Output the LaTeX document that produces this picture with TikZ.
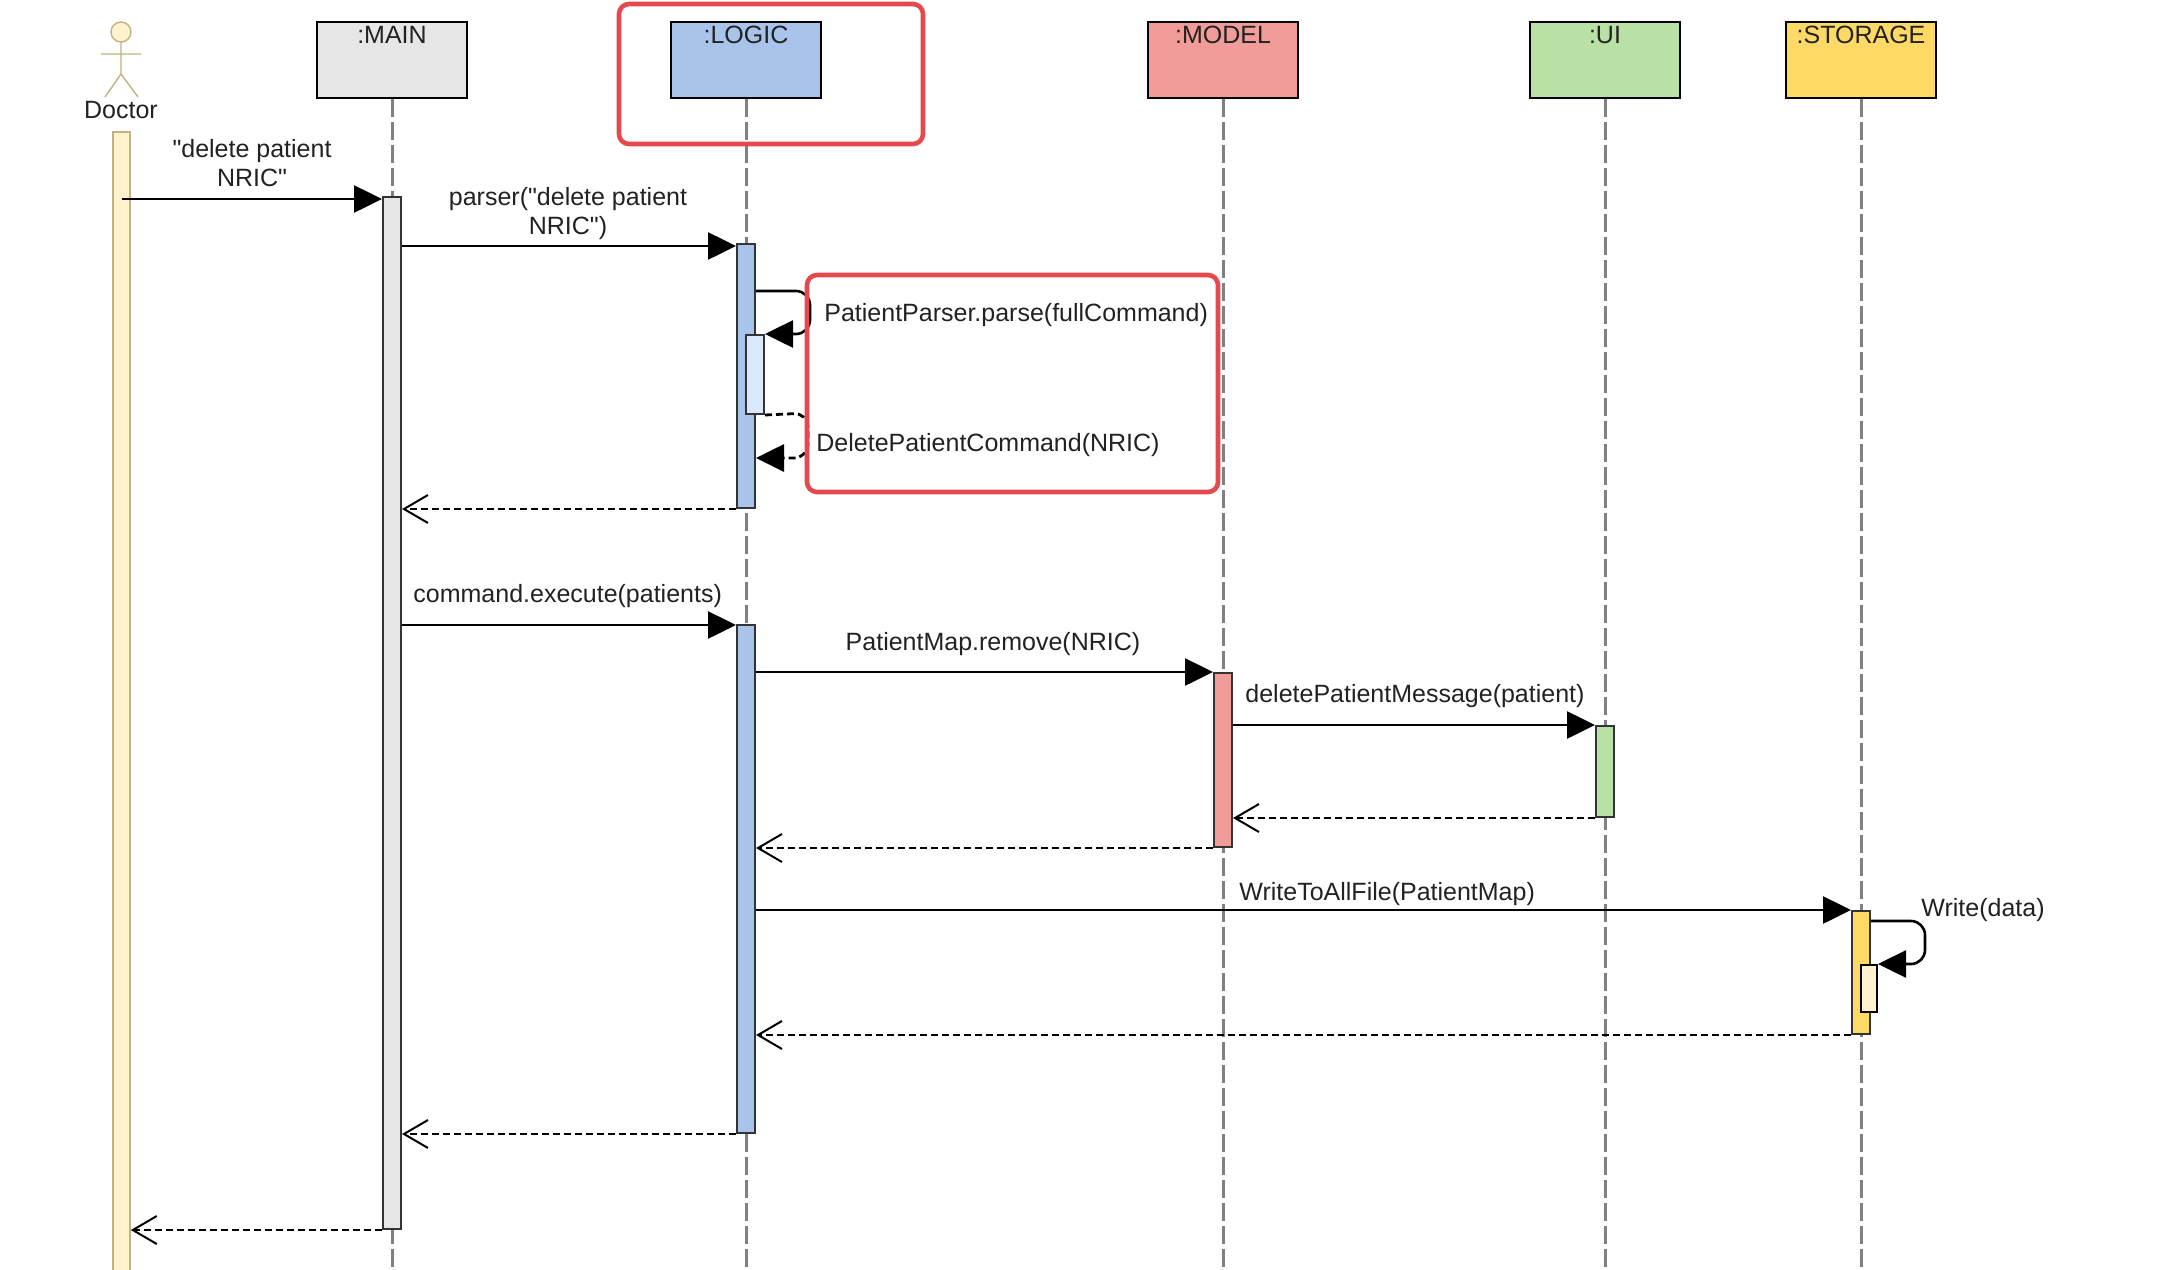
\documentclass[tikz,border=0pt]{standalone}
\usepackage{fontspec}
\setmainfont{Liberation Sans}[Ligatures=TeXOff]
\usetikzlibrary{arrows.meta}
\definecolor{mainfill}{HTML}{E6E6E6}
\definecolor{logicfill}{HTML}{A9C4EB}
\definecolor{modelfill}{HTML}{F19C99}
\definecolor{uifill}{HTML}{B9E0A5}
\definecolor{storfill}{HTML}{FFD966}
\definecolor{actfill}{HTML}{FFF2CC}
\definecolor{actline}{HTML}{C2B280}
\definecolor{nestblue}{HTML}{DAE8FC}
\definecolor{hlred}{HTML}{E5484D}
\definecolor{lifegray}{HTML}{808080}
\definecolor{txtcol}{HTML}{222222}
\begin{document}
\begin{tikzpicture}[x=0.5pt,y=-0.5pt,
  txt/.style={font=\fontsize{12.5pt}{15pt}\selectfont, text=txtcol, inner sep=0pt},
  pbox/.style={draw=black, line width=1.2pt, minimum width=75pt, minimum height=38pt, inner sep=0pt, anchor=north},
  abar/.style={draw=black!80, line width=1pt, minimum width=9pt, inner sep=0pt, anchor=north},
  life/.style={draw=lifegray, line width=1.5pt, dash pattern=on 9pt off 2.5pt},
  msg/.style={draw=black, line width=1.3pt, -{Triangle[length=14pt,width=13.5pt]}},
  retf/.style={draw=black, line width=1.4pt, dash pattern=on 3.5pt off 2pt, -{Triangle[length=14pt,width=13.5pt]}},
  ret/.style={draw=black, line width=1.4pt, dash pattern=on 3.5pt off 2pt, -{Straight Barb[length=12pt,width=14pt,line width=1pt]}},
  hl/.style={draw=hlred, line width=2.3pt, rounded corners=5pt},
]
\useasboundingbox (0,0) rectangle (2176,1270);
\fill[white] (0,0) rectangle (2176,1270);

% participants
\node[pbox, fill=mainfill] (main) at (392,21) {};
\node[pbox, fill=logicfill] (logic) at (746,21) {};
\node[pbox, fill=modelfill] (model) at (1223,21) {};
\node[pbox, fill=uifill] (ui) at (1605,21) {};
\node[pbox, fill=storfill] (stor) at (1861,21) {};
\node[txt, anchor=base] (mainl) at (392,43) {:MAIN};
\node[txt, anchor=base] (logicl) at (746,43) {:LOGIC};
\node[txt, anchor=base] (modell) at (1223,43) {:MODEL};
\node[txt, anchor=base] (uil) at (1605,43) {:UI};
\node[txt, anchor=base] (storl) at (1861,43) {:STORAGE};

% actor
\draw[actline, line width=0.7pt, fill=actfill] (121,32) circle[radius=5pt];
\draw[actline, line width=0.7pt] (121,42) -- (121,74) (101,54) -- (141,54) (105,97) -- (121,74) -- (138,97);
\node[txt, anchor=base] (doctor) at (121,118) {Doctor};

% lifelines
\coordinate (mainend) at (392,1272);
\coordinate (logicend) at (746,1272);
\coordinate (modelend) at (1223,1272);
\coordinate (uiend) at (1605,1272);
\coordinate (storend) at (1861,1272);
\draw[life] (main.south) -- (mainend);
\draw[life] (logic.south) -- (logicend);
\draw[life] (model.south) -- (modelend);
\draw[life] (ui.south) -- (uiend);
\draw[life] (stor.south) -- (storend);

% activation bars
\node[abar, draw=actline, line width=0.8pt, fill=actfill, minimum width=8.5pt, minimum height=571pt] (docbar) at (121.5,131) {};
\node[abar, fill=mainfill, minimum height=516pt] (mainbar) at (392,196) {};
\node[abar, fill=logicfill, minimum height=132pt] (logicbar1) at (746,243) {};
\node[abar, fill=nestblue, minimum height=39.5pt] (nestlogic) at (755,334) {};
\node[abar, fill=logicfill, minimum height=254pt] (logicbar2) at (746,624) {};
\node[abar, fill=modelfill, minimum height=87pt] (modelbar) at (1223,672) {};
\node[abar, fill=uifill, minimum height=45.5pt] (uibar) at (1605,725) {};
\node[abar, fill=storfill, minimum height=61.5pt] (storbar) at (1861,910) {};
\node[abar, draw=black, fill=actfill, minimum width=8pt, minimum height=23.5pt] (neststor) at (1869,964) {};

% messages
\draw[msg] (docbar.center |- 0,199) -- (mainbar.west |- 0,199);
\node[txt, anchor=base] (m1a) at (252,157) {\symbol{34}delete patient};
\node[txt, anchor=base] (m1b) at (252,186) {NRIC\symbol{34}};

\draw[msg] (mainbar.east |- 0,246) -- (logicbar1.west |- 0,246);
\node[txt, anchor=base] (m2a) at (568,205) {parser(\symbol{34}delete patient};
\node[txt, anchor=base] (m2b) at (568,234) {NRIC\symbol{34})};

\coordinate (s1a) at (810,291);
\coordinate (s1b) at (810,334);
\draw[msg, rounded corners=7pt] (logicbar1.east |- s1a) -- (s1a) -- (s1b) -- (nestlogic.north east);
\node[txt, anchor=base west] (m3) at (824,321) {PatientParser.parse(fullCommand)};

\coordinate (r1a) at (808,413);
\coordinate (r1b) at (808,458);
\draw[retf, rounded corners=7pt] (nestlogic.south east) -- (r1a) -- (r1b) -- (logicbar1.east |- r1b);
\node[txt, anchor=base west] (m4) at (816,451) {DeletePatientCommand(NRIC)};

\draw[ret] (logicbar1.south west) -- (mainbar.east |- logicbar1.south);

\draw[msg] (mainbar.east |- 0,625) -- (logicbar2.west |- 0,625);
\node[txt, anchor=base west] (m5) at (413,602) {command.execute(patients)};

\draw[msg] (logicbar2.east |- modelbar.north) -- (modelbar.north west);
\node[txt, anchor=base] (m6) at (993,650) {PatientMap.remove(NRIC)};

\draw[msg] (modelbar.east |- uibar.north) -- (uibar.north west);
\node[txt, anchor=base west] (m7) at (1245,702) {deletePatientMessage(patient)};

\draw[ret] (uibar.south west) -- (modelbar.east |- uibar.south);
\draw[ret] (modelbar.south west) -- (logicbar2.east |- modelbar.south);

\draw[msg] (logicbar2.east |- storbar.north) -- (storbar.north west);
\node[txt, anchor=base west] (m8) at (1239,900) {WriteToAllFile(PatientMap)};

\coordinate (s2a) at (1925,921);
\coordinate (s2b) at (1925,964);
\draw[msg, rounded corners=7pt] (storbar.east |- s2a) -- (s2a) -- (s2b) -- (neststor.north east);
\node[txt, anchor=base west] (m9) at (1921,916) {Write(data)};

\draw[ret] (storbar.south west) -- (logicbar2.east |- storbar.south);
\draw[ret] (logicbar2.south west) -- (mainbar.east |- logicbar2.south);
\draw[ret] (mainbar.south west) -- (docbar.east |- mainbar.south);

% highlights
\draw[hl] (619,4) rectangle (923,144);
\draw[hl] (807,275) rectangle (1218,492);
\end{tikzpicture}
\end{document}
